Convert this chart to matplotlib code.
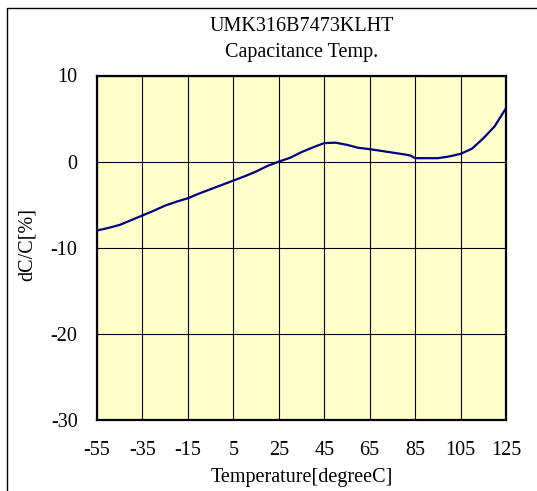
import matplotlib
matplotlib.use("Agg")
import matplotlib.pyplot as plt
from matplotlib.patches import Rectangle

# temperature [degC] and capacitance change [%]
temps = [-55, -50, -45, -40, -35, -30, -25, -20, -15, -10, -5, 0, 5, 10, 15, 20,
         25, 30, 35, 40, 45, 50, 55, 60, 65, 70, 75, 80, 83, 85, 90, 95, 100,
         105, 110, 115, 120, 125]
dcc = [-8.0, -7.7, -7.35, -6.8, -6.25, -5.7, -5.1, -4.65, -4.25, -3.7, -3.2,
       -2.7, -2.2, -1.7, -1.15, -0.5, 0.0, 0.45, 1.1, 1.65, 2.15, 2.2, 1.95,
       1.6, 1.45, 1.25, 1.05, 0.85, 0.7, 0.4, 0.4, 0.4, 0.6, 0.9, 1.5, 2.7,
       4.1, 6.2]
xticks = [-55, -35, -15, 5, 25, 45, 65, 85, 105, 125]
yticks = [-30, -20, -10, 0, 10]

plt.rcParams['font.family'] = ['Liberation Serif', 'DejaVu Serif']
plt.rcParams['axes.unicode_minus'] = False
fs = 14.5

fig = plt.figure(figsize=(5.37, 4.91), dpi=100)
ax = fig.add_axes([97 / 537, 1 - 420 / 491, 409 / 537, 344.5 / 491])
ax.set_facecolor('#FFFFCC')

ax.plot(temps, dcc, color='#000080', lw=1.6, zorder=3)

ax.set_xlim(-55, 125)
ax.set_ylim(-30, 10)
ax.set_xticks(xticks)
ax.set_yticks(yticks)
ax.tick_params(axis='x', length=0, labelsize=fs, pad=15)
ax.tick_params(axis='y', length=0, labelsize=fs, pad=14)
ax.grid(True, color='black', lw=0.8)
for s in ax.spines.values():
    s.set_linewidth(1.6)
    s.set_color('black')

ax.set_xlabel('Temperature[degreeC]', fontsize=fs, labelpad=6)
ax.set_ylabel('dC/C[%]', fontsize=fs)
ax.yaxis.set_label_coords(-0.147, 0.51)
ax.set_title('UMK316B7473KLHT\nCapacitance Temp.', fontsize=fs, pad=13, linespacing=1.5)

# outer frame (only left and top edges are inside the picture)
fig.patches.append(Rectangle((7 / 537, -0.1), 1.2, 1 - 8 / 491 + 0.1,
                             transform=fig.transFigure, fill=False,
                             edgecolor='black', lw=1.0))

fig.savefig('out.png', dpi=100)
